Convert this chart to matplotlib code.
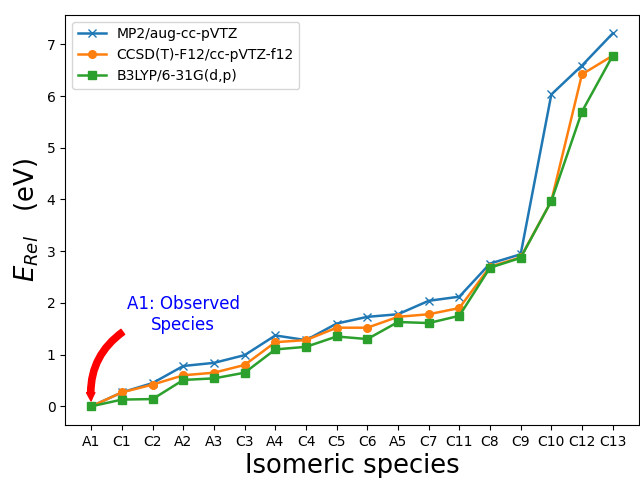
import numpy as np
import matplotlib.pyplot as plt

# species along the x axis
species = ['A1', 'C1', 'C2', 'A2', 'A3', 'C3', 'A4', 'C4', 'C5', 'C6', 'A5',
           'C7', 'C11', 'C8', 'C9', 'C10', 'C12', 'C13']

# relative energies (eV)
mp2 = [0.0, 0.27, 0.45, 0.78, 0.84, 0.99, 1.37, 1.28, 1.60, 1.73, 1.78,
       2.04, 2.12, 2.76, 2.94, 6.03, 6.59, 7.21]
ccsd = [0.0, 0.27, 0.42, 0.60, 0.65, 0.80, 1.24, 1.28, 1.52, 1.52, 1.73,
        1.78, 1.90, 2.70, 2.88, 3.97, 6.42, 6.78]
b3lyp = [0.0, 0.13, 0.14, 0.51, 0.54, 0.65, 1.10, 1.15, 1.35, 1.30, 1.63,
         1.61, 1.75, 2.68, 2.87, 3.97, 5.70, 6.78]

fig = plt.figure(figsize=(6.4, 4.78), dpi=100)
ax = fig.add_axes([0.102, 0.111, 0.896, 0.858])

x = np.arange(len(species))
ax.plot(x, mp2, marker='x', markersize=5.5, linewidth=1.8, label='MP2/aug-cc-pVTZ')
ax.plot(x, ccsd, marker='o', markersize=5.5, linewidth=1.8, label='CCSD(T)-F12/cc-pVTZ-f12')
ax.plot(x, b3lyp, marker='s', markersize=5.5, linewidth=1.8, label='B3LYP/6-31G(d,p)')

ax.set_xticks(x)
ax.set_xticklabels(species)
ax.set_xlabel('Isomeric species', fontsize=18.6, labelpad=3)
ax.set_ylabel(r'$E_{Rel}$   (eV)', fontsize=18.6)
ax.legend(loc='upper left')

# annotation pointing at the observed species
ax.text(3.0, 1.78, 'A1: Observed\nSpecies', color='blue', fontsize=12,
        ha='center', va='center')
ax.annotate('', xy=(0.0, 0.05), xytext=(1.1, 1.47),
            arrowprops=dict(arrowstyle='simple,head_width=0.6,head_length=0.6,tail_width=0.45',
                            color='red', connectionstyle='arc3,rad=0.3'))

plt.savefig('out.png', dpi=100)
